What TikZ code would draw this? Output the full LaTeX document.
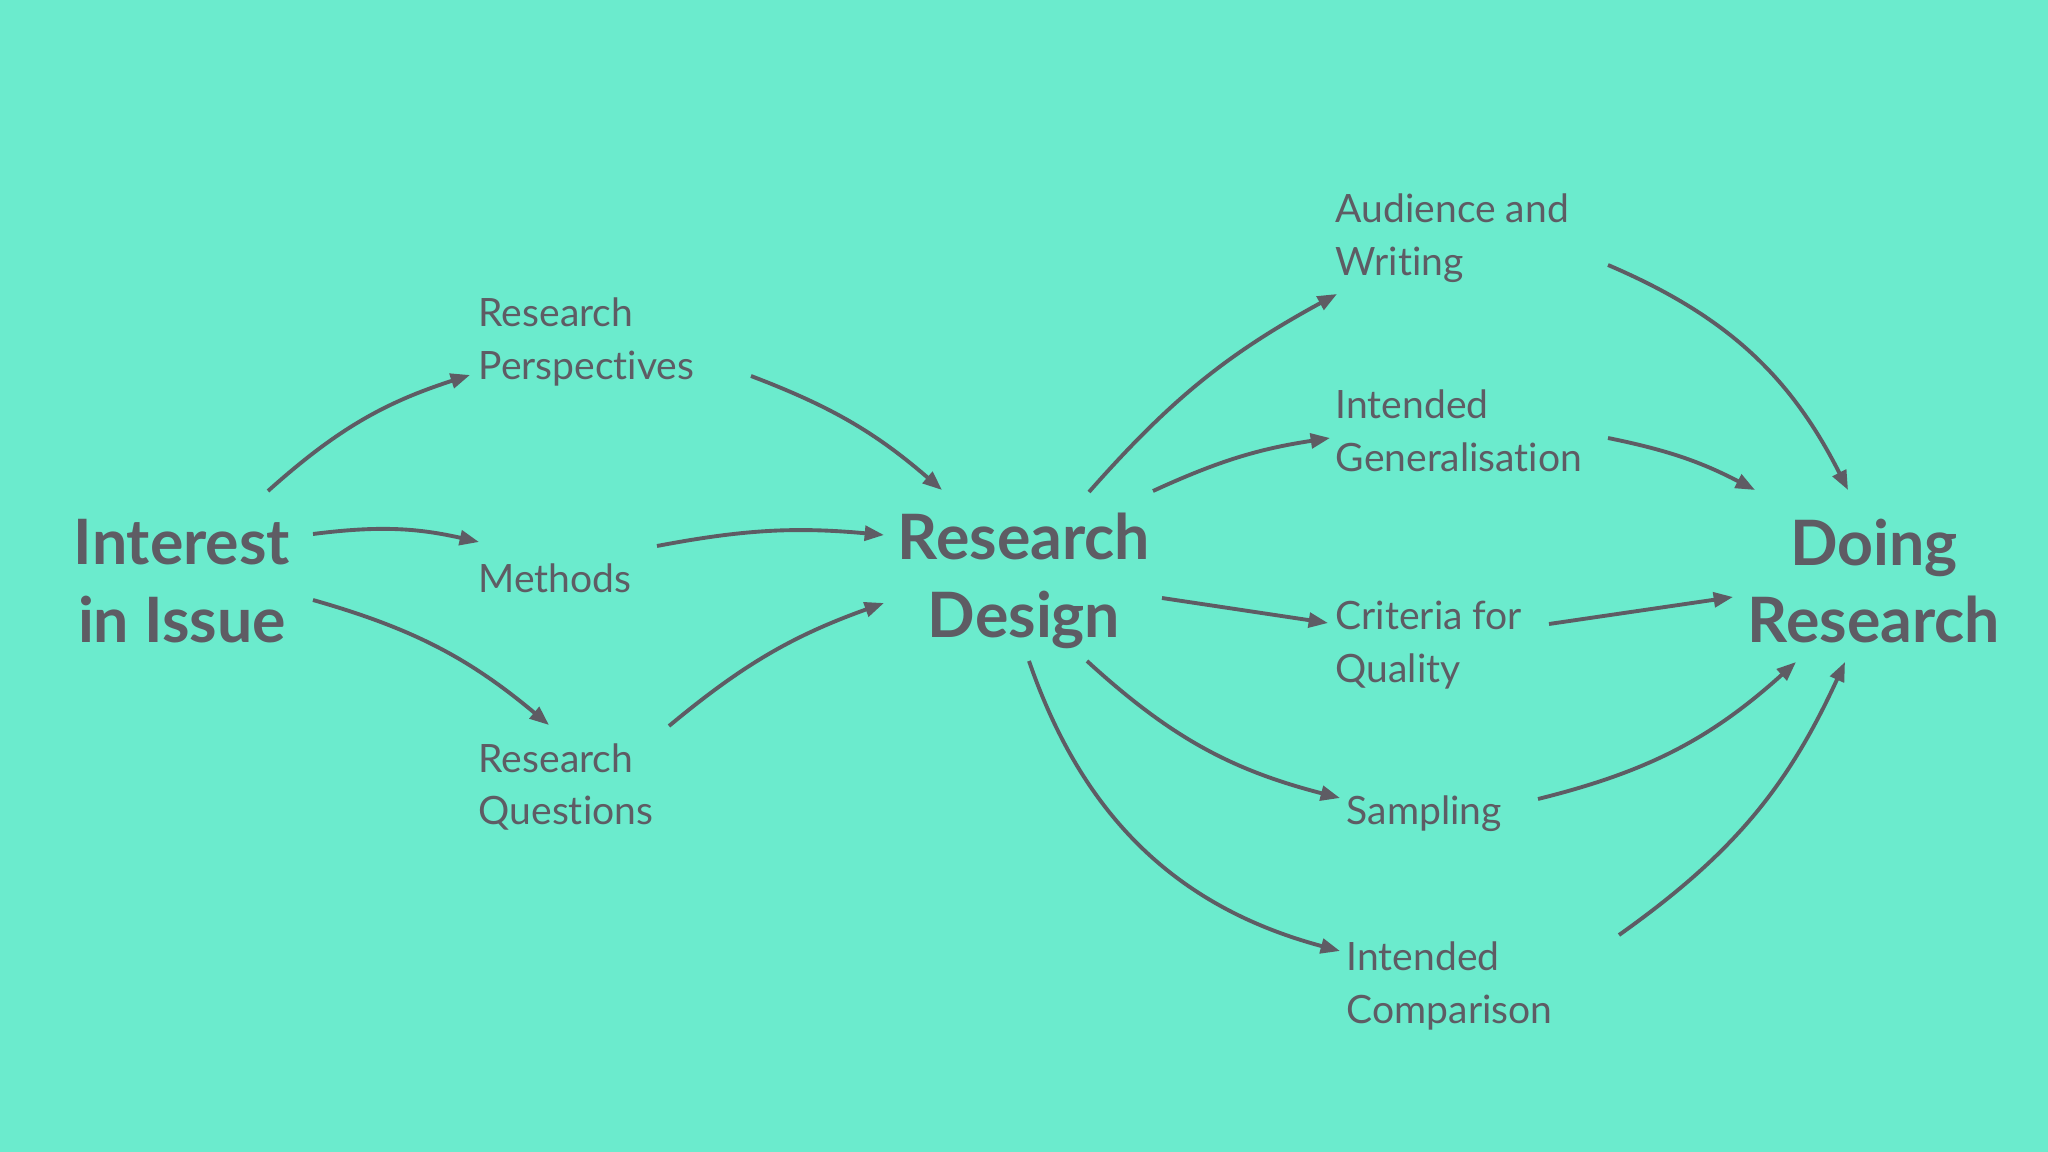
\documentclass[tikz,border=0pt]{standalone}
\usepackage{fontspec}
\setmainfont[Ligatures=NoCommon]{Lato}
\usetikzlibrary{arrows.meta, calc}
\definecolor{bgteal}{HTML}{6BEBCD}
\definecolor{inkgray}{HTML}{5E5C64}
\tikzset{
  headtext/.style={font=\fontsize{17.8}{22}\selectfont\bfseries, text=inkgray,
                   align=center, inner sep=0pt},
  subtext/.style={font=\fontsize{11.1}{15}\selectfont, text=inkgray,
                  align=left, anchor=west, inner sep=0pt},
  flow/.style={-{Triangle[length=5.5pt,width=4.2pt]}, line width=1.1pt, inkgray},
}
\begin{document}
\begin{tikzpicture}[x=0.01cm, y=-0.01cm]

  %% ── Canvas ──
  \fill[bgteal] (0,0) rectangle (2048,1152);
  \useasboundingbox (0,0) rectangle (2048,1152);

  %% ═══════════ Main stages ═══════════
  \node[headtext] (int)    at (182, 581)  {Interest\\in Issue};
  \node[headtext] (design) at (1024, 581) {Research\\Design};
  \node[headtext] (doing)  at (1874, 581) {Doing\\Research};

  %% ═══════════ Left branch ═══════════
  \node[subtext] (persp) at (478, 342) {Research\\Perspectives};
  \node[subtext] (meth)  at (478, 578) {Methods};
  \node[subtext] (quest) at (478, 787) {Research\\Questions};

  %% ═══════════ Right branch ═══════════
  \node[subtext] (aud)  at (1335, 238) {Audience and\\Writing};
  \node[subtext] (gen)  at (1335, 431) {Intended\\Generalisation};
  \node[subtext] (crit) at (1335, 645) {Criteria for\\Quality};
  \node[subtext] (samp) at (1346, 814) {Sampling};
  \node[subtext] (comp) at (1346, 986) {Intended\\Comparison};

  %% Interest -> left branch
  \draw[flow] ($(int.center)+(86,-90)$) to[bend left=12] ($(persp.west)+(-8,33)$);
  \draw[flow] ($(int.center)+(131,-47)$) to[bend left=10] ($(meth.west)+(1,-36)$);
  \draw[flow] ($(int.center)+(131,19)$) to[bend left=12] ($(quest.west)+(71,-62)$);

  %% left branch -> Research Design
  \draw[flow] ($(persp.west)+(273,34)$) to[bend left=10] ($(design.center)+(-82,-91)$);
  \draw[flow] ($(meth.west)+(179,-32)$) to[bend left=8] ($(design.center)+(-140,-46)$);
  \draw[flow] ($(quest.west)+(191,-61)$) to[bend left=10] ($(design.center)+(-140,22)$);

  %% Research Design -> right branch
  \draw[flow] ($(design.center)+(65,-89)$) to[bend left=10] ($(aud.west)+(2,56)$);
  \draw[flow] ($(design.center)+(129,-90)$) to[bend left=8] ($(gen.west)+(-5,7)$);
  \draw[flow] ($(design.center)+(138,17)$) -- ($(crit.west)+(-7,-22)$);
  \draw[flow] ($(design.center)+(63,80)$) to[bend right=14] ($(samp.west)+(-6,-16)$);
  \draw[flow] ($(design.center)+(5,80)$) to[bend right=28] ($(comp.west)+(-6,-35)$);

  %% right branch -> Doing Research
  \draw[flow] ($(aud.west)+(273,27)$) to[bend left=20] ($(doing.center)+(-26,-91)$);
  \draw[flow] ($(gen.west)+(273,7)$) to[bend left=8] ($(doing.center)+(-119,-91)$);
  \draw[flow] ($(crit.west)+(214,-21)$) -- ($(doing.center)+(-141,16)$);
  \draw[flow] ($(samp.west)+(192,-15)$) to[bend right=14] ($(doing.center)+(-78,81)$);
  \draw[flow] ($(comp.west)+(273,-51)$) to[bend right=15] ($(doing.center)+(-29,81)$);

\end{tikzpicture}
\end{document}
